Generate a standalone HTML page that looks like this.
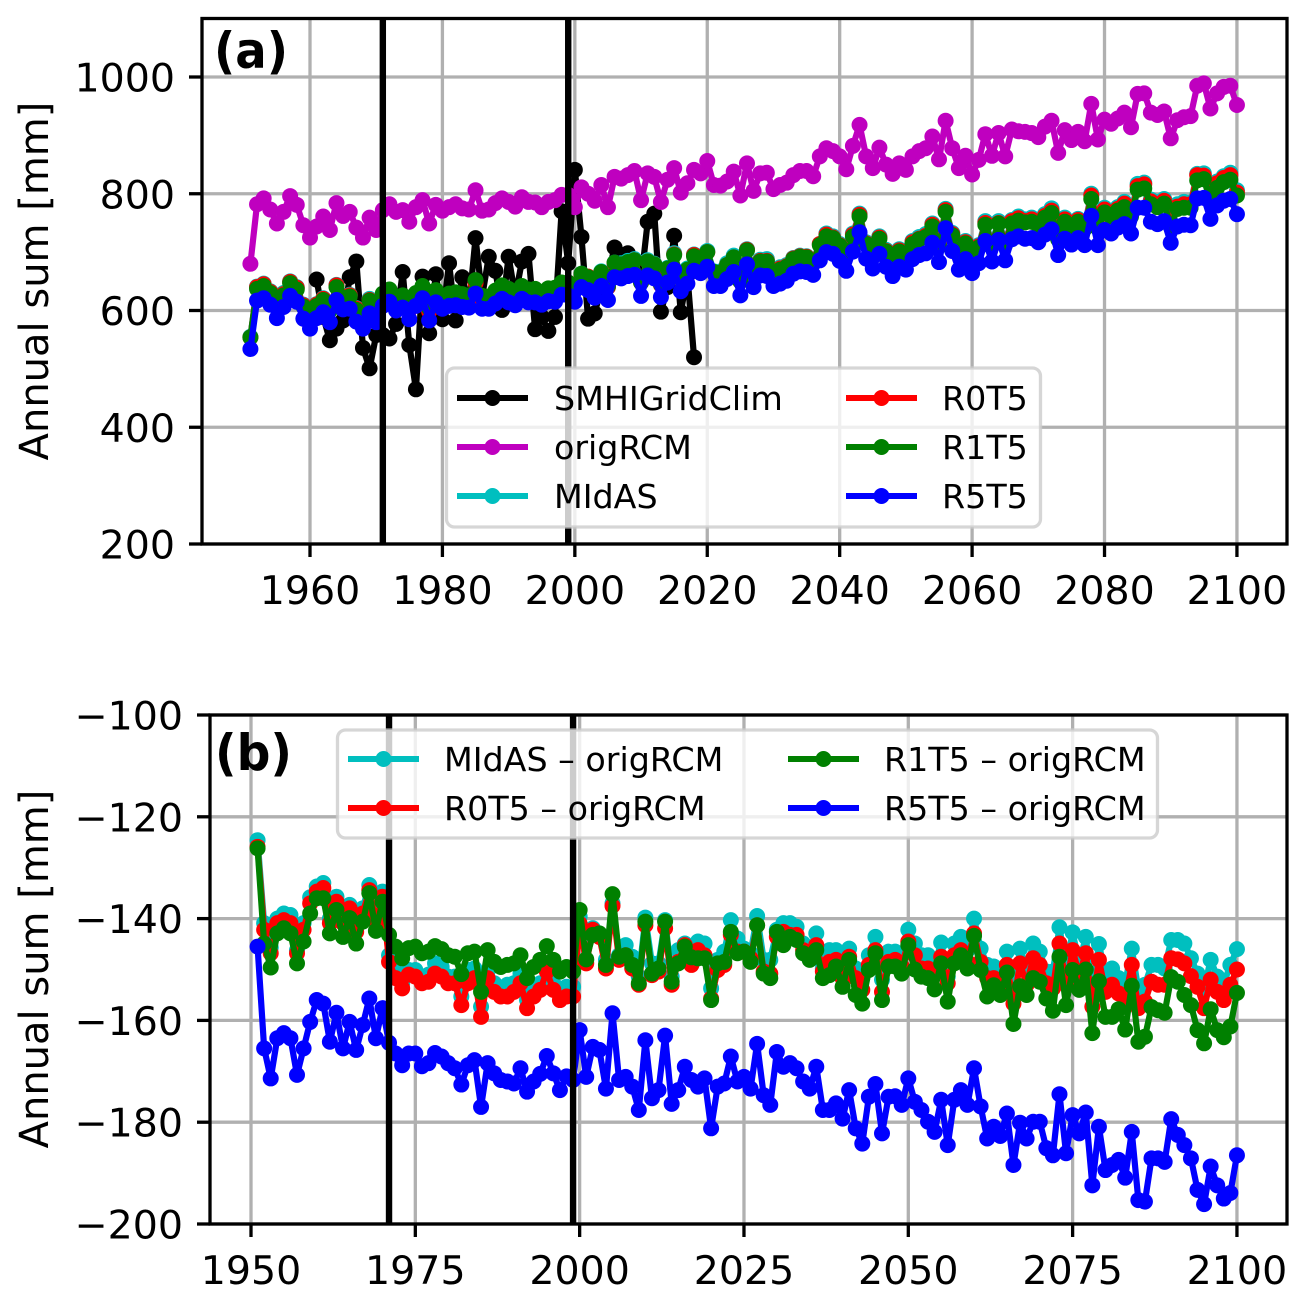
<!DOCTYPE html>
<html>
<head>
<meta charset="utf-8">
<title>Annual sum chart</title>
<style>
html,body{margin:0;padding:0;background:#fff;}
svg{display:block;}
text{font-family:"DejaVu Sans","Liberation Sans",sans-serif;fill:#000;}
</style>
</head>
<body>
<svg id="chart" xmlns="http://www.w3.org/2000/svg" width="1305" height="1301" viewBox="0 0 1305 1301"></svg>
<script>
const firstYear = 1951;
const lastYear = 2100;
const smhiFirstYear = 1961;
const smhi = [653,589,549,569,583,657,684,536,501,558,558,552,577,666,541,465,658,561,662,585,681,583,657,606,724,624,692,668,601,692,624,684,697,568,589,565,589,770,681,841,726,586,595,640,660,708,695,698,670,650,752,766,598,640,728,597,660,520];
const origRCM = [680,782,792,773,749,769,796,781,746,725,744,761,738,784,762,769,742,725,759,738,772,782,769,772,752,777,789,749,781,771,777,782,775,773,806,771,773,784,792,786,778,794,786,785,777,786,789,798,798,777,811,800,788,815,777,829,826,832,839,789,835,829,786,824,844,802,818,841,835,856,815,814,821,838,797,852,805,835,836,808,815,819,832,839,839,830,864,878,873,864,842,882,918,864,844,879,850,834,852,841,864,873,878,898,859,925,878,844,865,833,858,902,865,904,864,910,907,906,904,897,915,925,870,909,892,906,890,954,893,927,920,929,939,914,971,972,939,935,941,895,926,931,933,985,989,946,972,983,985,952];
const midas = [555,641,646,633,610,630,650,640,610,591,611,621,602,644,625,627,604,592,620,603,625,632,616,622,602,625,638,600,631,620,626,627,625,623,649,621,620,630,639,633,627,638,632,632,628,633,635,645,645,637,663,658,645,667,640,682,681,685,688,649,686,680,646,673,698,657,672,696,690,702,667,667,681,694,651,705,665,687,688,666,674,678,690,694,693,687,714,732,727,714,696,732,766,717,700,727,704,688,705,699,719,726,731,749,714,774,733,700,719,693,712,753,716,753,718,755,761,756,759,751,765,775,728,759,749,757,746,800,748,776,770,777,786,768,817,819,790,786,791,751,782,786,785,834,835,798,821,830,836,806];
const r0t5 = [554,640,645,632,609,628,649,639,609,590,610,620,601,643,624,626,603,591,618,602,624,630,615,621,601,624,637,598,630,618,624,625,622,621,647,619,619,629,637,632,625,636,631,631,627,632,633,643,643,636,662,658,644,665,640,681,679,682,686,648,684,679,644,671,696,657,669,695,688,700,665,665,678,691,650,704,664,685,685,664,672,676,689,693,692,685,714,730,725,712,695,730,764,715,698,725,702,686,703,697,717,723,728,747,712,772,731,698,717,690,710,750,713,750,715,753,758,753,756,748,762,771,725,756,746,755,743,797,745,773,767,774,783,765,813,816,787,782,788,747,778,782,782,832,831,794,818,827,832,802];
const r1t5 = [554,637,642,630,607,626,647,636,607,589,608,618,600,640,622,624,601,590,617,601,629,636,621,626,606,630,642,604,635,624,629,631,628,626,652,625,624,634,643,637,631,642,636,637,632,638,639,648,648,639,663,657,645,666,642,682,679,683,686,648,684,679,645,672,695,656,670,693,687,700,666,665,678,691,650,703,664,684,684,665,670,675,688,692,691,684,712,727,724,711,694,727,761,714,697,723,701,685,701,696,714,722,726,744,710,769,729,697,715,690,708,747,712,749,713,749,754,751,752,745,759,767,722,752,742,752,740,791,741,768,761,771,777,761,807,809,782,777,783,744,774,776,776,823,825,788,810,820,824,797];
const r5t5 = [534,617,621,610,587,606,625,615,586,569,587,597,580,618,602,603,581,569,595,580,608,615,600,605,585,608,621,583,614,603,608,609,606,605,629,603,603,612,620,614,609,620,614,614,610,616,615,627,626,615,640,635,622,642,618,657,655,659,661,625,660,655,623,648,670,633,646,668,664,675,642,642,654,666,626,679,640,660,659,642,646,651,663,667,666,661,686,700,697,685,668,701,734,689,672,697,675,659,675,670,688,695,698,716,683,741,702,670,688,664,681,719,684,721,686,722,727,723,724,717,730,739,695,723,713,724,712,762,712,738,732,742,748,732,776,776,752,748,753,716,744,747,746,792,793,757,780,788,791,765];
const diffMidas = [-124.6,-140.9,-145.7,-140,-139,-139.3,-146.2,-140.9,-135.8,-133.7,-133,-140,-135.7,-140,-137.3,-141.6,-138,-133.4,-139.3,-134.7,-147.2,-150.4,-152.7,-150.1,-150.1,-151.7,-151,-148.8,-149.5,-151.4,-151.4,-155.3,-150.1,-149.8,-157.3,-150.4,-152.7,-154,-153,-152.7,-150.8,-156,-154,-152.7,-149.1,-152.7,-154.4,-153.4,-153.4,-139.6,-148.1,-141.9,-143.2,-148.1,-137,-147.2,-145.2,-147.5,-151.4,-139.8,-148.8,-148.8,-140.3,-151.4,-146.2,-144.9,-145.9,-144.5,-144.9,-153.7,-148.1,-146.5,-140.3,-143.9,-145.9,-146.8,-139.5,-148.1,-148.1,-142.2,-140.9,-140.9,-141.6,-144.9,-145.9,-142.9,-149.8,-146.2,-146.2,-149.8,-145.9,-149.8,-151.7,-147.2,-143.6,-152,-146.5,-146.5,-147.2,-142.2,-144.9,-147.2,-147.2,-149.1,-144.7,-151.4,-144.9,-143.6,-146.2,-140,-145.9,-149.1,-149.4,-151.4,-146.5,-155,-145.9,-150.1,-144.9,-146.5,-150.4,-150.4,-141.7,-149.8,-142.7,-148.8,-143.6,-154.4,-145,-151.1,-149.8,-151.7,-152.7,-145.9,-154,-153,-149.1,-149.1,-149.8,-144.2,-144.2,-144.9,-147.8,-150.8,-153.7,-148.1,-151.4,-152.7,-149.1,-146];
const diffR0 = [-125.9,-142.2,-146.8,-140.9,-140.3,-140.9,-146.8,-142.2,-137,-134.7,-134,-140.9,-136.7,-140.9,-138,-142.6,-139,-134.4,-140.6,-135.7,-148.5,-151.7,-153.7,-151,-151.4,-152.7,-152.4,-150.8,-151.4,-152.7,-152.7,-157,-152.7,-151.7,-159.3,-151.7,-154.4,-155.3,-155.3,-154.4,-152.7,-157.6,-155.3,-154,-150.4,-154,-156,-155.3,-155.3,-141,-148.8,-142.2,-143.6,-149.8,-137.5,-148.1,-147.2,-149.8,-153,-141.3,-151.1,-150.4,-141.9,-153,-148.5,-145.2,-149.1,-146.2,-147.2,-155.7,-150.1,-149.1,-143.2,-146.5,-146.5,-147.8,-141.3,-150.4,-150.8,-143.6,-142.6,-143.2,-143.2,-146.2,-147.2,-145.2,-150.4,-148.5,-148.1,-151.7,-147.5,-151.7,-154,-149.1,-146.2,-154.4,-148.5,-148.1,-149.4,-144.5,-147.2,-149.8,-149.8,-151.1,-147.5,-152.7,-147.2,-146.2,-148.5,-142.9,-148.5,-151.7,-151.7,-153.7,-149.1,-156.7,-148.8,-153,-147.8,-149.1,-152.7,-153.7,-144.9,-153,-146.2,-151.1,-146.8,-157.3,-148.1,-154.4,-153,-154.7,-155.7,-149.1,-157.6,-156.3,-152.4,-153,-153,-147.8,-148,-148.8,-151.3,-153.4,-157.6,-152,-154.4,-156,-153,-150];
const diffR1 = [-126.2,-144.9,-149.6,-142.9,-141.9,-142.9,-148.8,-144.5,-139,-136,-136,-142.9,-138.3,-143.6,-139.9,-144.9,-140.6,-135,-142.4,-136.7,-143.2,-145.5,-147.8,-145.8,-145.5,-146.8,-146.5,-145.4,-146,-147.2,-147.5,-150.9,-146.8,-146.5,-154.4,-146.2,-148.5,-149.5,-149.1,-148.8,-147.2,-151.7,-149.5,-148.1,-145.4,-148.1,-150.4,-149.5,-150.4,-138.3,-148,-143.2,-142.9,-149.1,-135.2,-147.5,-147.2,-149.1,-152.7,-140.6,-150.8,-149.8,-140.6,-152.4,-148.8,-145.5,-147.6,-147.8,-147.8,-156,-148.8,-148.5,-142.6,-146.8,-146.5,-148.5,-141.3,-150.8,-151.7,-142.6,-145.2,-143.6,-144.2,-146.8,-148.1,-146.2,-151.7,-151.1,-149.4,-153.4,-148.1,-155,-156.7,-150.1,-146.8,-156,-149.4,-149.4,-150.8,-145.2,-150,-151.4,-151.7,-153.9,-148.8,-156.3,-148.8,-147.2,-149.8,-143.4,-150.1,-155.3,-153.1,-155,-150.6,-160.7,-153.3,-155,-151.7,-152.4,-155.7,-158.1,-147.5,-157,-150.1,-154,-150,-162.5,-152.3,-159.3,-159.3,-157.8,-161.8,-153.2,-164.2,-163.2,-157.4,-158,-158.5,-151.5,-152.4,-155,-157,-161.9,-164.5,-157.8,-161.9,-163.3,-161.2,-154.6];
const diffR5 = [-145.5,-165.5,-171.4,-163.5,-162.5,-163.5,-170.7,-165.5,-160.3,-156,-156.7,-164.2,-158.5,-165.5,-160.3,-165.8,-160.9,-155.7,-163.5,-157.6,-164.4,-166.5,-168.8,-166.5,-166.5,-169,-168.4,-166.4,-167.1,-168.4,-169.4,-172.6,-168.8,-167.8,-177,-168.4,-170.4,-171.7,-172,-172.4,-169.4,-174,-172,-170.5,-167,-170.4,-173.7,-171,-171.7,-161.9,-171.1,-165.2,-165.8,-173.4,-158.6,-171.7,-171.1,-173,-177.6,-163.9,-175.3,-173.7,-163,-176.4,-173.7,-169.1,-171.7,-173,-171.4,-181.2,-173,-172.4,-167.1,-172,-171.1,-173.4,-164.6,-174.7,-176.6,-166.2,-169.1,-168.4,-169.4,-172,-173.4,-169.1,-177.6,-177.6,-176.3,-179.3,-173.7,-181.2,-184.2,-175,-172.5,-182.2,-175,-174.9,-176.6,-171.4,-176,-177.6,-179.9,-181.9,-175.6,-184.5,-175.6,-173.7,-176.6,-169.4,-176.9,-183.2,-180.9,-182.7,-178.3,-188.4,-180.1,-183.2,-179.9,-179.9,-185.1,-186.5,-174.5,-186.1,-178.6,-182.2,-178.1,-192.4,-180.9,-189.4,-188.4,-187.4,-190.9,-181.9,-195.3,-195.6,-187.1,-187.1,-187.8,-179.4,-182.5,-184.5,-187.1,-193.3,-196.1,-188.7,-192.4,-195,-193.9,-186.5];
const xTicksA = [1960,1980,2000,2020,2040,2060,2080,2100];
const yTicksA = [200,400,600,800,1000];
const xTicksB = [1950,1975,2000,2025,2050,2075,2100];
const yTicksB = [-200,-180,-160,-140,-120,-100];
const markerYears = [1971,1999];
const legendLabelsA = ['SMHIGridClim','origRCM','MIdAS','R0T5','R1T5','R5T5'];
const legendLabelsB = ['MIdAS – origRCM','R0T5 – origRCM','R1T5 – origRCM','R5T5 – origRCM'];

const NS = 'http://www.w3.org/2000/svg';
const svg = document.getElementById('chart');
const C = {black:'#000000',m:'#bf00bf',c:'#00bfbf',r:'#ff0000',g:'#008000',b:'#0000ff'};
const TICK_FS = 39.5, LEG_FS = 33.3, LABEL_FS = 40;

function mk(tag, attrs, parent){
  const e = document.createElementNS(NS, tag);
  for (const k in attrs) e.setAttribute(k, attrs[k]);
  (parent || svg).appendChild(e);
  return e;
}
function yearsFrom(start, n){ return Array.from({length:n}, (_, i) => start + i); }

const panelA = {L:202,R:1287,T:18.5,B:544,
  x:y => 310 + (y - 1960) * 6.621,
  y:v => 77 + (1000 - v) * 0.58375};
const panelB = {L:210,R:1287,T:715,B:1224,
  x:y => 251 + (y - 1950) * 6.573,
  y:v => 715 + (-100 - v) * 5.09};

function fmt(v){ return (v < 0 ? '\u2212' + Math.abs(v) : '' + v); }

function drawFrame(p, id, xTicks, yTicks){
  const g = mk('g', {});
  
  
  const bg = mk('rect', {x:p.L, y:p.T, width:p.R-p.L, height:p.B-p.T, fill:'#fff'}, g);
  
  
  const cp = mk('clipPath', {id:id + '-clip'}, g);
  mk('rect', {x:p.L, y:p.T, width:p.R-p.L, height:p.B-p.T}, cp);
  xTicks.forEach(t => {
    const l = mk('line', {x1:p.x(t), x2:p.x(t), y1:p.T, y2:p.B, stroke:'#b0b0b0', 'stroke-width':3.3}, g);
    
    
  });
  yTicks.forEach(t => {
    const l = mk('line', {x1:p.L, x2:p.R, y1:p.y(t), y2:p.y(t), stroke:'#b0b0b0', 'stroke-width':3.3}, g);
    
    
  });
}

function drawSeries(p, id, name, color, years, values){
  const g = mk('g', {'clip-path':'url(#' + id + '-clip)'});
  
  
  const pts = values.map((v, i) => p.x(years[i]).toFixed(2) + ',' + p.y(v).toFixed(2)).join(' ');
  mk('polyline', {points:pts, fill:'none', stroke:color, 'stroke-width':6.2, 'stroke-linejoin':'round', 'stroke-linecap':'square'}, g);
  values.forEach((v, i) => {
    const c = mk('circle', {cx:p.x(years[i]), cy:p.y(v), r:8, fill:color}, g);
    
    
  });
}

function drawVLines(p, id){
  markerYears.forEach(y => {
    const l = mk('line', {x1:p.x(y), x2:p.x(y), y1:p.T, y2:p.B, stroke:'#000', 'stroke-width':6.4, 'clip-path':'url(#' + id + '-clip)'});
    
    
  });
}

function drawAxes(p, xTicks, yTicks, yAnchor, xLabelY){
  xTicks.forEach(t => {
    const l = mk('line', {x1:p.x(t), x2:p.x(t), y1:p.B, y2:p.B+13, stroke:'#000', 'stroke-width':3.3});
    
    
    const s = mk('text', {x:p.x(t), y:xLabelY, 'text-anchor':'middle', 'font-size':TICK_FS});
    
    
    s.textContent = fmt(t);
  });
  yTicks.forEach(t => {
    const l = mk('line', {x1:p.L-13, x2:p.L, y1:p.y(t), y2:p.y(t), stroke:'#000', 'stroke-width':3.3});
    
    
    const s = mk('text', {x:yAnchor, y:p.y(t)+14.5, 'text-anchor':'end', 'font-size':TICK_FS});
    
    
    s.textContent = fmt(t);
  });
  const sp = mk('rect', {x:p.L, y:p.T, width:p.R-p.L, height:p.B-p.T, fill:'none', stroke:'#000', 'stroke-width':3.3});
  
  
}

function drawLegend(name, box, entries){
  const g = mk('g', {});
  
  
  mk('rect', {x:box.x, y:box.y, width:box.w, height:box.h, rx:8, ry:8, fill:'#fff', 'fill-opacity':0.8, stroke:'#cccccc', 'stroke-opacity':0.8, 'stroke-width':3.3}, g);
  entries.forEach(en => {
    const eg = mk('g', {}, g);
    
    
    mk('line', {x1:en.hx, x2:en.hx+en.hw, y1:en.y, y2:en.y, stroke:en.color, 'stroke-width':6}, eg);
    mk('circle', {cx:en.hx+en.hw/2, cy:en.y, r:8, fill:en.color}, eg);
    const s = mk('text', {x:en.tx, y:en.y+12, 'font-size':LEG_FS}, eg);
    s.textContent = en.label;
  });
}

function yLabel(cx, cy){
  const s = mk('text', {x:cx, y:cy, transform:'rotate(-90 ' + cx + ' ' + cy + ')', 'text-anchor':'middle', 'font-size':LABEL_FS});
  
  
  s.textContent = 'Annual sum [mm]';
}

function panelTag(txt, x, y, w){
  const s = mk('text', {x:x, y:y, 'font-size':50, 'font-weight':'bold', textLength:w, lengthAdjust:'spacingAndGlyphs'});
  
  
  s.textContent = txt;
}

const years = yearsFrom(firstYear, lastYear - firstYear + 1);
const smhiYears = yearsFrom(smhiFirstYear, smhi.length);

/* Panel (a) */
drawFrame(panelA, 'panel-a', xTicksA, yTicksA);
drawSeries(panelA, 'panel-a', 'smhigridclim-series', C.black, smhiYears, smhi);
drawSeries(panelA, 'panel-a', 'origrcm-series', C.m, years, origRCM);
drawSeries(panelA, 'panel-a', 'midas-series', C.c, years, midas);
drawSeries(panelA, 'panel-a', 'r0t5-series', C.r, years, r0t5);
drawSeries(panelA, 'panel-a', 'r1t5-series', C.g, years, r1t5);
drawSeries(panelA, 'panel-a', 'r5t5-series', C.b, years, r5t5);
drawVLines(panelA, 'panel-a');
drawAxes(panelA, xTicksA, yTicksA, 175, 604);
panelTag('(a)', 214, 68, 74);
yLabel(48, 281);
drawLegend('panel-a-legend', {x:446.5,y:368,w:594,h:159}, [
  {label:legendLabelsA[0],color:C.black,hx:457,hw:71,tx:554,y:398},
  {label:legendLabelsA[1],color:C.m,hx:457,hw:71,tx:554,y:447},
  {label:legendLabelsA[2],color:C.c,hx:457,hw:71,tx:554,y:496},
  {label:legendLabelsA[3],color:C.r,hx:846,hw:71,tx:942,y:398},
  {label:legendLabelsA[4],color:C.g,hx:846,hw:71,tx:942,y:447},
  {label:legendLabelsA[5],color:C.b,hx:846,hw:71,tx:942,y:496}
]);

/* Panel (b) */
drawFrame(panelB, 'panel-b', xTicksB, yTicksB);
drawSeries(panelB, 'panel-b', 'midas-minus-origrcm-series', C.c, years, diffMidas);
drawSeries(panelB, 'panel-b', 'r0t5-minus-origrcm-series', C.r, years, diffR0);
drawSeries(panelB, 'panel-b', 'r1t5-minus-origrcm-series', C.g, years, diffR1);
drawSeries(panelB, 'panel-b', 'r5t5-minus-origrcm-series', C.b, years, diffR5);
drawVLines(panelB, 'panel-b');
drawAxes(panelB, xTicksB, yTicksB, 183, 1284);
panelTag('(b)', 215, 770, 77);
yLabel(48, 969);
drawLegend('panel-b-legend', {x:337.5,y:730,w:820,h:108}, [
  {label:legendLabelsB[0],color:C.c,hx:348,hw:71,tx:444,y:759},
  {label:legendLabelsB[1],color:C.r,hx:348,hw:71,tx:444,y:808},
  {label:legendLabelsB[2],color:C.g,hx:788,hw:71,tx:884,y:759},
  {label:legendLabelsB[3],color:C.b,hx:788,hw:71,tx:884,y:808}
]);
</script>
</body>
</html>
